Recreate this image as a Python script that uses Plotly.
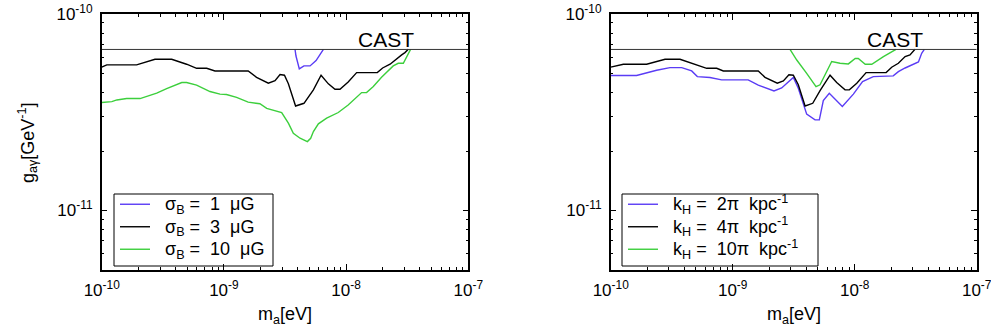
import numpy as np
import plotly.graph_objects as go

# ---- data: axion mass (eV) vs. photon coupling bound (GeV^-1) ----
CAST_LIMIT = 6.6e-11
m_range = [1e-10, 1e-7]

# left panel: varying sigma_B
m_sigma1 = [3.82e-9, 3.89e-9, 4.14e-9, 4.52e-9, 5.07e-9, 5.68e-9, 6.52e-9]
g_sigma1 = np.array([6.61, 6.11, 5.25, 5.44, 5.44, 5.79, 6.61]) * 1e-11

m_sigma3 = [1.00e-10, 1.10e-10, 1.24e-10, 1.93e-10, 2.73e-10, 3.74e-10, 4.95e-10, 5.98e-10,
            7.23e-10, 8.45e-10, 1.58e-9, 1.85e-9, 2.31e-9, 2.62e-9, 2.88e-9, 3.13e-9,
            3.37e-9, 3.86e-9, 4.52e-9, 5.40e-9, 6.24e-9, 7.16e-9, 8.11e-9, 8.91e-9,
            1.04e-8, 1.22e-8, 1.80e-8, 1.99e-8, 2.29e-8, 2.51e-8, 2.85e-8, 3.03e-8, 3.23e-8]
g_sigma3 = np.array([5.36, 5.51, 5.51, 5.51, 5.88, 5.88, 5.55, 5.29, 5.29, 5.13, 5.13, 4.76,
                     4.44, 4.58, 4.92, 4.88, 4.41, 3.40, 3.51, 4.11, 4.88, 4.41, 4.14, 4.14,
                     4.51, 5.03, 5.03, 5.31, 5.55, 5.83, 6.19, 6.36, 6.61]) * 1e-11

m_sigma10 = [1.00e-10, 1.21e-10, 1.33e-10, 1.60e-10, 2.06e-10, 2.82e-10, 3.40e-10, 4.52e-10,
             4.95e-10, 5.98e-10, 7.69e-10, 9.29e-10, 1.05e-9, 1.27e-9, 1.58e-9, 1.97e-9,
             2.24e-9, 2.97e-9, 3.37e-9, 3.70e-9, 4.20e-9, 4.82e-9, 5.13e-9, 5.40e-9,
             5.93e-9, 6.93e-9, 8.63e-9, 1.04e-8, 1.34e-8, 1.47e-8, 1.67e-8, 1.95e-8,
             2.43e-8, 2.67e-8, 2.94e-8, 3.13e-8, 3.37e-8]
g_sigma10 = np.array([3.54, 3.58, 3.65, 3.71, 3.71, 3.95, 4.17, 4.48, 4.48, 4.34, 4.03, 3.91,
                      3.89, 3.76, 3.56, 3.49, 3.31, 3.15, 2.78, 2.47, 2.33, 2.24, 2.33, 2.52,
                      2.76, 2.95, 3.15, 3.44, 3.98, 3.98, 4.27, 4.76, 5.44, 5.61, 5.61, 6.07,
                      6.61]) * 1e-11

# right panel: varying k_H
m_k2 = [1.00e-10, 1.63e-10, 2.38e-10, 3.06e-10, 3.82e-10, 4.61e-10, 5.13e-10, 6.51e-10,
        8.12e-10, 1.34e-9, 1.62e-9, 2.18e-9, 2.52e-9, 3.14e-9, 3.45e-9, 4.04e-9, 4.73e-9,
        5.13e-9, 5.53e-9, 6.19e-9, 7.92e-9, 9.75e-9, 1.16e-8, 1.42e-8, 2.07e-8, 2.28e-8,
        2.59e-8, 3.33e-8, 3.54e-8, 3.72e-8]
g_k2 = np.array([4.86, 4.86, 5.17, 5.33, 5.33, 5.13, 4.80, 4.75, 4.62, 4.62, 4.34, 4.06,
                 4.20, 4.75, 4.19, 3.09, 2.89, 2.89, 3.62, 3.95, 3.38, 3.91, 4.53, 4.80,
                 4.84, 5.09, 5.31, 5.70, 6.31, 6.61]) * 1e-11

m_k4 = [1.00e-10, 1.27e-10, 1.97e-10, 2.79e-10, 3.70e-10, 4.47e-10, 6.12e-10, 7.39e-10,
        8.38e-10, 1.62e-9, 1.84e-9, 2.32e-9, 2.60e-9, 2.89e-9, 3.14e-9, 3.45e-9, 3.92e-9,
        4.53e-9, 5.20e-9, 6.28e-9, 7.12e-9, 8.33e-9, 9.04e-9, 1.04e-8, 1.24e-8, 1.81e-8,
        2.01e-8, 2.28e-8, 2.59e-8, 2.84e-8, 3.12e-8]
g_k4 = np.array([5.36, 5.55, 5.55, 5.88, 5.88, 5.65, 5.29, 5.29, 5.13, 5.13, 4.76, 4.44,
                 4.56, 4.90, 4.88, 4.36, 3.40, 3.51, 4.07, 4.88, 4.48, 4.11, 4.11, 4.44,
                 5.03, 5.03, 5.36, 5.61, 6.07, 6.19, 6.61]) * 1e-11

m_k10 = [2.95e-9, 3.35e-9, 4.04e-9, 4.82e-9, 5.20e-9, 5.71e-9, 6.48e-9, 7.58e-9, 8.87e-9,
         1.01e-8, 1.07e-8, 1.22e-8, 1.38e-8, 1.72e-8, 2.18e-8]
g_k10 = np.array([6.61, 5.83, 4.99, 4.27, 4.36, 4.90, 5.73, 5.61, 5.57, 5.93, 5.93, 5.55,
                  5.55, 6.07, 6.61]) * 1e-11

x_tickvals = [1e-10, 1e-9, 1e-8, 1e-7]
x_ticktext = ["10<sup>-10</sup>", "10<sup>-9</sup>", "10<sup>-8</sup>", "10<sup>-7</sup>"]
y_tickvals = [1e-11, 1e-10]
y_ticktext = ["10<sup>-11</sup>", "10<sup>-10</sup>"]

BLUE = "#5a3cf5"
BLACK = "#000000"
GREEN = "#3ccf3c"
FONT = "Liberation Sans, Arial, sans-serif"
NB = "\u00a0"


def legend_label(text):
    # legend rows are spaced for a 15px font; the label itself is drawn larger
    return f'<span style="font-size:18px">{NB}{NB}{text}</span>'


fig = go.Figure()

left_series = [
    (m_sigma1, g_sigma1, BLUE, f"σ<sub>B</sub> ={NB}{NB}1{NB}{NB}μG"),
    (m_sigma3, g_sigma3, BLACK, f"σ<sub>B</sub> ={NB}{NB}3{NB}{NB}μG"),
    (m_sigma10, g_sigma10, GREEN, f"σ<sub>B</sub> ={NB}{NB}10{NB}{NB}μG"),
]
right_series = [
    (m_k2, g_k2, BLUE, f"k<sub>H</sub> ={NB}{NB}2π{NB}{NB}kpc<sup>-1</sup>"),
    (m_k4, g_k4, BLACK, f"k<sub>H</sub> ={NB}{NB}4π{NB}{NB}kpc<sup>-1</sup>"),
    (m_k10, g_k10, GREEN, f"k<sub>H</sub> ={NB}{NB}10π{NB}{NB}kpc<sup>-1</sup>"),
]

for xa, ya, leg, series in [("x", "y", "legend", left_series),
                            ("x2", "y2", "legend2", right_series)]:
    for m, g, col, name in series:
        fig.add_trace(go.Scatter(x=m, y=g, mode="lines", name=legend_label(name),
                                 xaxis=xa, yaxis=ya, legend=leg,
                                 line=dict(color=col, width=1.4)))
    # CAST bound
    fig.add_trace(go.Scatter(x=m_range, y=[CAST_LIMIT, CAST_LIMIT], mode="lines",
                             xaxis=xa, yaxis=ya, showlegend=False,
                             line=dict(color="#333333", width=1)))

minor_x = [k * 10.0 ** e for e in (-10, -9, -8) for k in range(2, 10)]
minor_y = [k * 1e-12 for k in range(5, 10)] + [k * 1e-11 for k in range(2, 10)]


def xaxis(domain):
    return dict(type="log", domain=domain, range=[-10, -7], tickvals=x_tickvals,
                ticktext=x_ticktext, ticks="inside", ticklen=6, tickwidth=1,
                tickcolor="black", showline=True, linecolor="black", linewidth=1.5,
                mirror="allticks", showgrid=False, zeroline=False, automargin=False,
                ticklabeloverflow="allow",
                tickfont=dict(size=17, family=FONT, color="black"), ticklabelstandoff=4,
                minor=dict(tickvals=minor_x, ticks="inside", ticklen=3, tickcolor="black",
                           tickwidth=1, showgrid=False))


def yaxis(domain, anchor):
    return dict(type="log", domain=domain, range=[np.log10(5e-12), -10], anchor=anchor,
                tickvals=y_tickvals, ticktext=y_ticktext, ticks="inside", ticklen=6,
                tickwidth=1, tickcolor="black", showline=True, linecolor="black",
                linewidth=1.5, mirror="allticks", showgrid=False, zeroline=False,
                automargin=False, ticklabeloverflow="allow",
                tickfont=dict(size=17, family=FONT, color="black"), ticklabelstandoff=4,
                minor=dict(tickvals=minor_y, ticks="inside", ticklen=3, tickcolor="black",
                           tickwidth=1, showgrid=False))


ydom = [1 - 269.5 / 336, 1 - 14 / 336]
legend_style = dict(borderwidth=0, bgcolor="rgba(255,255,255,0)",
                    font=dict(size=15, family=FONT, color="black"),
                    xanchor="left", yanchor="top", tracegroupgap=0)

# legend frames (pixel boxes converted to paper fractions)
frames = [(114, 194, 273, 266), (622, 194, 818, 266)]
shapes = [dict(type="rect", xref="paper", yref="paper", x0=x0 / 991, x1=x1 / 991,
               y0=1 - y1 / 336, y1=1 - y0 / 336, line=dict(color="black", width=1),
               fillcolor="rgba(0,0,0,0)", layer="above")
          for x0, y0, x1, y1 in frames]

fig.update_layout(
    width=991, height=336, margin=dict(l=0, r=0, t=0, b=0, autoexpand=False),
    paper_bgcolor="white", plot_bgcolor="white",
    xaxis=dict(xaxis([101.7 / 991, 468.3 / 991]), anchor="y"),
    yaxis=yaxis(ydom, "x"),
    xaxis2=dict(xaxis([610.7 / 991, 976.7 / 991]), anchor="y2"),
    yaxis2=yaxis(ydom, "x2"),
    legend=dict(legend_style, x=115 / 991, y=1 - 188 / 336),
    legend2=dict(legend_style, x=623 / 991, y=1 - 188 / 336),
    font=dict(family=FONT, color="black"),
    shapes=shapes,
)

annotations = [
    dict(text="CAST", x=386 / 991, y=1 - 39 / 336, font=dict(size=21)),
    dict(text="CAST", x=895 / 991, y=1 - 39 / 336, font=dict(size=21)),
    dict(text="m<sub>a</sub>[eV]", x=285 / 991, y=1 - 315 / 336, font=dict(size=18)),
    dict(text="m<sub>a</sub>[eV]", x=794 / 991, y=1 - 315 / 336, font=dict(size=18)),
    dict(text="g<sub>aγ</sub>[GeV<sup>-1</sup>]", x=27 / 991, y=1 - 143 / 336,
         textangle=-90, font=dict(size=18)),
]
for a in annotations:
    a.update(xref="paper", yref="paper", showarrow=False, xanchor="center",
             yanchor="middle")
    a["font"].update(family=FONT, color="black")
fig.update_layout(annotations=annotations)

fig.write_html("out.html")
